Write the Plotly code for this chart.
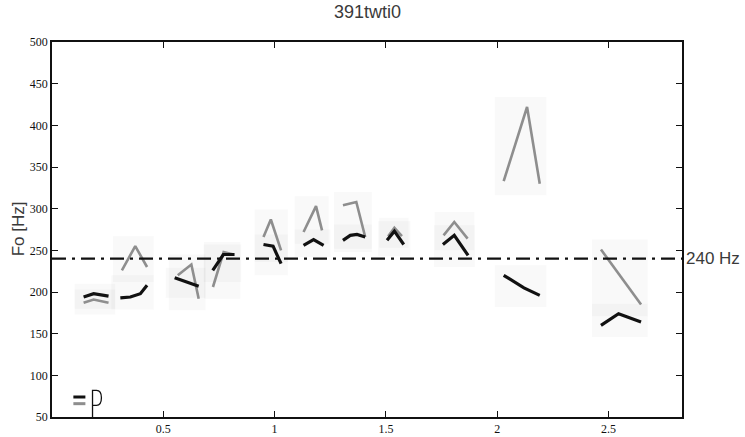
import plotly.graph_objects as go

# F0 contours per syllable: gray = first rendition, black = second rendition
gray_x = [
    [0.142, 0.187, 0.254],
    [0.314, 0.374, 0.427],
    [0.565, 0.626, 0.659],
    [0.723, 0.771, 0.816],
    [0.950, 0.983, 1.029],
    [1.130, 1.186, 1.213],
    [1.307, 1.367, 1.407],
    [1.510, 1.538, 1.572],
    [1.759, 1.807, 1.867],
    [2.029, 2.134, 2.191],
    [2.466, 2.646],
]
gray_y = [
    [187, 191, 187],
    [226, 255, 230],
    [220, 233, 192],
    [206, 248, 245],
    [266, 287, 250],
    [272, 303, 274],
    [304, 308, 266],
    [267, 277, 267],
    [268, 284, 264],
    [333, 422, 330],
    [251, 185],
]
black_x = [
    [0.142, 0.187, 0.254],
    [0.307, 0.352, 0.397, 0.427],
    [0.551, 0.659],
    [0.722, 0.750, 0.770, 0.820],
    [0.950, 0.993, 1.029],
    [1.130, 1.175, 1.220],
    [1.307, 1.340, 1.370, 1.407],
    [1.505, 1.538, 1.580],
    [1.756, 1.807, 1.869],
    [2.029, 2.080, 2.120, 2.191],
    [2.466, 2.545, 2.646],
]
black_y = [
    [194, 198, 195],
    [193, 194, 198, 208],
    [217, 207],
    [226, 237, 245, 245],
    [257, 255, 234],
    [256, 263, 256],
    [262, 268, 269, 266],
    [262, 273, 257],
    [257, 268, 244],
    [220, 212, 205, 196],
    [160, 174, 164],
]

reference_hz = 240
x_ticks = [0.5, 1, 1.5, 2, 2.5]
y_ticks = [50, 100, 150, 200, 250, 300, 350, 400, 450, 500]
title_text = "391twti0"
y_title = "Fo [Hz]"
ref_label = "240 Hz"

X_RANGE = [0, 2.83]
Y_RANGE = [50, 500]

GRAY = "#8e8e8e"
BLACK = "#111111"
SANS = "Liberation Sans Narrow, Liberation Sans, Arial, sans-serif"
SERIF = "Liberation Serif, Times New Roman, serif"

fig = go.Figure()

# faint background haze around each contour
shapes = []
for xs, ys in list(zip(gray_x, gray_y)) + list(zip(black_x, black_y)):
    shapes.append(dict(
        type="rect", xref="x", yref="y", layer="below",
        x0=min(xs) - 0.04, x1=max(xs) + 0.03,
        y0=min(ys) - 14, y1=max(ys) + 12,
        fillcolor="rgba(120,120,120,0.045)", line=dict(width=0),
    ))

for xs, ys in zip(gray_x, gray_y):
    fig.add_trace(go.Scatter(x=xs, y=ys, mode="lines",
                             line=dict(color=GRAY, width=2.6),
                             showlegend=False, hoverinfo="skip"))
for xs, ys in zip(black_x, black_y):
    fig.add_trace(go.Scatter(x=xs, y=ys, mode="lines",
                             line=dict(color=BLACK, width=3.2),
                             showlegend=False, hoverinfo="skip"))

# reference pitch line
shapes.append(dict(
    type="line", xref="paper", yref="y", x0=0, x1=1,
    y0=reference_hz, y1=reference_hz,
    line=dict(color=BLACK, width=2.2, dash="14px,6px,3px,6px"),
))

# small key in the lower-left corner: black/gray bars and a "P" glyph
shapes += [
    dict(type="line", xref="x", yref="y", x0=0.096, x1=0.150, y0=74, y1=74,
         line=dict(color=BLACK, width=3)),
    dict(type="line", xref="x", yref="y", x0=0.096, x1=0.150, y0=66, y1=66,
         line=dict(color=GRAY, width=3)),
    dict(type="path", xref="x", yref="y",
         path="M 0.182 50 L 0.182 82 L 0.200 82 Q 0.222 82 0.222 73 "
              "Q 0.222 64 0.200 64 L 0.182 64",
         line=dict(color=BLACK, width=1.3)),
]

fig.update_layout(
    width=745, height=437,
    margin=dict(l=52, r=63, t=42, b=20),
    paper_bgcolor="white", plot_bgcolor="white",
    shapes=shapes,
    annotations=[
        dict(text=title_text, xref="paper", yref="paper", x=0.5, y=1,
             yshift=30, xanchor="center", yanchor="middle", showarrow=False,
             font=dict(family=SANS, size=18, color="#3a3a3a")),
        dict(text=y_title, xref="paper", yref="paper", x=-0.054, y=0.503,
             textangle=-90, xanchor="center", yanchor="middle", showarrow=False,
             font=dict(family=SANS, size=17, color="#3a3a3a")),
        dict(text=ref_label, xref="paper", yref="y", x=1, y=reference_hz,
             xshift=2, xanchor="left", yanchor="middle", showarrow=False,
             font=dict(family=SANS, size=17, color="#3a3a3a")),
    ],
    xaxis=dict(
        range=X_RANGE, tickvals=x_ticks, ticktext=[str(t) for t in x_ticks],
        showgrid=False, zeroline=False, showline=True, linecolor=BLACK,
        linewidth=1.5, mirror="ticks", ticks="inside", ticklen=6,
        tickwidth=1.2, tickcolor=BLACK, automargin=False,
        tickfont=dict(family=SERIF, size=12, color=BLACK),
    ),
    yaxis=dict(
        range=Y_RANGE, tickvals=y_ticks, ticktext=[str(t) for t in y_ticks],
        showgrid=False, zeroline=False, showline=True, linecolor=BLACK,
        linewidth=1.5, mirror="ticks", ticks="inside", ticklen=6,
        tickwidth=1.2, tickcolor=BLACK, automargin=False,
        tickfont=dict(family=SERIF, size=12, color=BLACK),
    ),
)

fig.write_html("out.html")
